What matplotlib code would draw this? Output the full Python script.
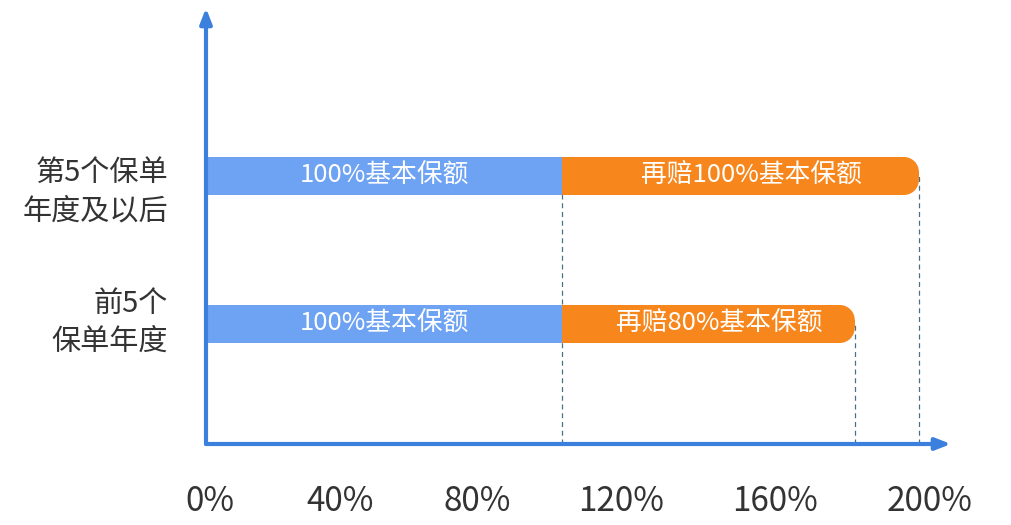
import matplotlib.pyplot as plt
from matplotlib.patches import Ellipse, Rectangle

plt.rcParams['font.family'] = ['Noto Sans CJK SC', 'DejaVu Sans']

# Data
categories = ["前5个\n保单年度", "第5个保单\n年度及以后"]
base = [100, 100]          # 100% basic sum insured
extra = [82, 100]          # extra payout (as drawn)
base_text = ["100%基本保额", "100%基本保额"]
extra_text = ["再赔80%基本保额", "再赔100%基本保额"]
tick_labels = ["0%", "40%", "80%", "120%", "160%", "200%"]
tick_pos = [1, 37.6, 76, 116.5, 159.5, 203]  # labels are placed unevenly in the original

blue = "#6ea3f3"
orange = "#f7861c"
axis_blue = "#3a80dc"

fig = plt.figure(figsize=(10.11, 5.25), dpi=100)
# axes spans the drawn axis lines: x 206->951 px, y 444->8 px
ax = fig.add_axes([206 / 1011, (525 - 444) / 525, (951 - 206) / 1011, (444 - 8) / 525])
ax.set_xlim(0, 209)
y_pos = [1, 2]
ax.set_ylim(0.189, 1 + (436 - 120) / 148)
bar_h = 38 / 148

# px per data unit, for round corners
px_x = 745 / 209
px_y = 148
r_px = 15
rx, ry = r_px / px_x, r_px / px_y

for y, b, e, bt, et in zip(y_pos, base, extra, base_text, extra_text):
    end = b + e
    # orange bar with rounded right end
    ax.barh(y, e - rx, left=b, height=bar_h, color=orange, zorder=2)
    ax.add_patch(Rectangle((end - rx - 0.01, y - bar_h / 2 + ry), rx + 0.01, bar_h - 2 * ry,
                           fc=orange, ec="none", zorder=2))
    for cy in (y - bar_h / 2 + ry, y + bar_h / 2 - ry):
        ax.add_patch(Ellipse((end - rx, cy), 2 * rx, 2 * ry, fc=orange, ec="none", zorder=2))
    ax.barh(y, b, height=bar_h, color=blue, zorder=3)
    ax.text(b / 2, y, bt, color="white", fontsize=18.5, ha="center", va="center", zorder=4)
    ax.text(b + e / 2 + 3, y, et, color="white", fontsize=18.5, ha="center", va="center", zorder=4)
    ax.plot([end, end], [ax.get_ylim()[0], y], ls=(0, (4, 3)), lw=0.9, color="#4a7088", zorder=1)

ax.plot([base[0], base[0]], [ax.get_ylim()[0], y_pos[-1]], ls=(0, (4, 3)), lw=0.9,
        color="#4a7088", zorder=1)

# category labels at the left
label_y = [1.01, 1.89]
for ly, cat in zip(label_y, categories):
    ax.text(-38 / px_x, ly, cat, fontsize=21, ha="right", va="center", color="#333333",
            linespacing=1.35, clip_on=False)

# axis arrows
for s in ax.spines.values():
    s.set_visible(False)
ax.annotate("", xy=(0, ax.get_ylim()[1]), xytext=(0, ax.get_ylim()[0]),
            arrowprops=dict(arrowstyle="-|>,head_length=0.9,head_width=0.35",
                            color=axis_blue, lw=3, shrinkA=0, shrinkB=0),
            annotation_clip=False, zorder=5)
ax.annotate("", xy=(209, ax.get_ylim()[0]), xytext=(0, ax.get_ylim()[0]),
            arrowprops=dict(arrowstyle="-|>,head_length=0.9,head_width=0.35",
                            color=axis_blue, lw=3, shrinkA=0, shrinkB=0),
            annotation_clip=False, zorder=5)

ax.set_yticks([])
ax.set_xticks(tick_pos)
ax.set_xticklabels(tick_labels, fontsize=24, color="#333333")
ax.tick_params(axis="x", length=0, pad=29)

fig.savefig("out.png", dpi=100)
